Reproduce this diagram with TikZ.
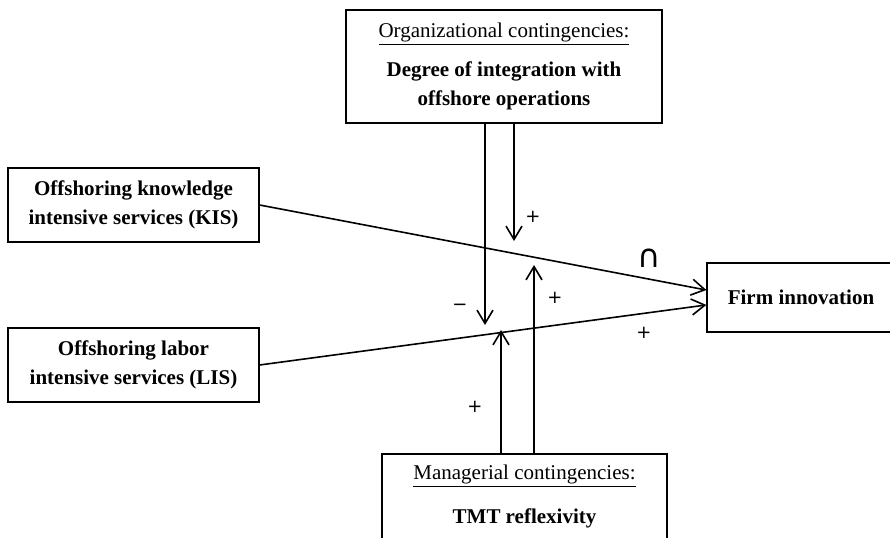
\documentclass[tikz,border=0pt]{standalone}
\usepackage{fontspec}
\setmainfont{Liberation Serif}
\newfontfamily\signfont{DejaVu Sans}
\usetikzlibrary{arrows.meta}
\tikzset{>={Straight Barb[length=10pt,width=12pt]}}
\tikzset{
  box/.style={draw, line width=0.9pt, inner sep=0pt, align=center,
    font=\fontsize{15.75}{21.4}\selectfont},
  link/.style={->, line width=1.2pt},
  sign/.style={inner sep=0pt, font=\fontsize{13.5}{16}\signfont}
}

\begin{document}
\begin{tikzpicture}[x=0.75pt, y=-0.75pt]
	\useasboundingbox (0,0) rectangle (890,538);
	\clip (0,0) rectangle (890,538);
	% boxes
	\node (kis) [box, minimum width=188.25pt, minimum height=55.5pt] at (133.5,205)
		{\textbf{Offshoring knowledge}\\\textbf{intensive services (KIS)}};
	\node (lis) [box, minimum width=188.25pt, minimum height=55.5pt] at (133.5,365)
		{\textbf{Offshoring labor}\\\textbf{intensive services (LIS)}};
	\node (firm) [box, minimum width=141pt, minimum height=51.75pt] at (801,297.5)
		{\textbf{Firm innovation}};
	\node (org) [box, minimum width=237pt, minimum height=84.75pt] at (504,66.5)
		{\underline{Organizational contingencies:}\\[8pt]\textbf{Degree of integration with}\\\textbf{offshore operations}};
	\node (mgr) [box, minimum width=213.75pt, minimum height=63.75pt] at (524.5,496.5)
		{\underline{Managerial contingencies:}\\[11pt]\textbf{TMT reflexivity}};
	% main effects
	\draw [link] (kis.east) -- ([yshift=5.6pt]firm.west);
	\draw [link] (lis.east) -- ([yshift=-5.6pt]firm.west);
	% moderators
	\coordinate (d1) at (485,325);
	\coordinate (d2) at (514,241);
	\coordinate (u1) at (501,330);
	\coordinate (u2) at (534,265);
	\draw [link] (d1 |- org.south) -- (d1);
	\draw [link] (d2 |- org.south) -- (d2);
	\draw [link] (u1 |- mgr.north) -- (u1);
	\draw [link] (u2 |- mgr.north) -- (u2);
	% signs
	\node (s1) [sign] at (533,217) {+};
	\node (s2) [sign, font=\fontsize{24}{26}\signfont] at (649.5,258) {∩};
	\node (s3) [sign] at (555,298) {+};
	\node (s4) [sign] at (460,307) {−};
	\node (s5) [sign] at (644,333) {+};
	\node (s6) [sign] at (475,407) {+};
\end{tikzpicture}
\end{document}
